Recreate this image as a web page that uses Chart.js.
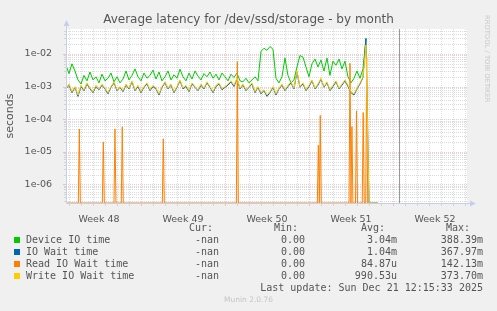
<!DOCTYPE html>
<html>
<head>
<meta charset="utf-8">
<title>Average latency for /dev/ssd/storage - by month</title>
<script src="https://cdn.jsdelivr.net/npm/chart.js@4.4.1/dist/chart.umd.min.js"></script>
<style>
  body { margin: 0; background: #f0f0f0; }
  #wrap { position: relative; width: 497px; height: 311px; overflow: hidden; font-family: "DejaVu Sans", sans-serif; color: #555; }
  canvas { position: absolute; left: 0; top: 0; }
  .txt { position: absolute; white-space: pre; line-height: 12px; height: 12px; }
  .mono { font-family: "DejaVu Sans Mono", monospace; font-size: 10px; }
  .sq { position: absolute; width: 6px; height: 6px; }
  #title { position: absolute; left: 0; width: 497px; top: 12px; text-align: center; font-size: 12px; line-height: 14px; }
  #footer { position: absolute; left: 0; width: 497px; top: 295px; text-align: center; font-size: 7.5px; color: #c4c4c4; }
  #rrd { position: absolute; left: 483px; top: 15px; writing-mode: vertical-rl; font-size: 6.8px; color: #c8c8c8; white-space: pre; }
</style>
</head>
<body>
<div id="wrap">
  <canvas id="latencyChart" width="497" height="311"></canvas>
  <div id="title">Average latency for /dev/ssd/storage - by month</div>
  <div id="rrd">RRDTOOL / TOBI OETIKER</div>
  <div id="footer">Munin 2.0.76</div>
</div>
<script>
/* ==========================================
   Data (seconds, one sample every 6 hours)
========================================== */

// x is measured in days from Monday Nov 24 00:00
const sampleStartDay = 0.75;
const sampleStepDay = 0.25;

const deviceIO = [
    4.5e-3, 2.5e-3, 5.0e-3, 3.0e-3, 1.6e-3, 1.2e-3, 2.2e-3, 1.5e-3, 2.8e-3, 1.6e-3,
    2.0e-3, 1.3e-3, 2.4e-3, 1.5e-3, 1.8e-3, 2.6e-3, 1.4e-3, 2.0e-3, 1.3e-3, 1.7e-3,
    3.0e-3, 1.6e-3, 2.2e-3, 3.5e-3, 2.0e-3, 1.5e-3, 2.6e-3, 1.8e-3, 2.2e-3, 3.2e-3,
    1.7e-3, 2.8e-3, 1.5e-3, 2.0e-3, 3.0e-3, 1.6e-3, 2.3e-3, 1.8e-3, 3.4e-3, 2.0e-3,
    1.5e-3, 2.6e-3, 1.7e-3, 3.0e-3, 2.1e-3, 1.6e-3, 2.5e-3, 2.0e-3, 2.8e-3, 1.8e-3,
    2.4e-3, 1.6e-3, 2.6e-3, 2.0e-3, 1.5e-3, 2.4e-3, 1.9e-3, 2.6e-3, 1.5e-3, 1.4e-3,
    1.8e-3, 1.3e-3, 1.6e-3, 2.0e-3, 1.5e-3, 1.2e-2, 1.5e-2, 1.3e-2, 1.7e-2, 1.4e-2,
    1.8e-3, 1.3e-3, 2.0e-3, 7.5e-3, 2.2e-3, 1.3e-3, 1.6e-3, 4.0e-3, 9.0e-3, 8.0e-3,
    4.0e-3, 2.0e-3, 5.0e-3, 7.0e-3, 4.0e-3, 6.5e-3, 3.0e-3, 7.5e-3, 2.2e-3, 6.0e-3,
    4.5e-3, 7.0e-3, 3.5e-3, 6.0e-3, 2.0e-3, 1.3e-3, 1.8e-3, 3.0e-3, 1.8e-3, 3.5e-3,
    3.0e-2
];

const ioWait = [
    8.5e-4, 1.1e-3, 6.5e-4, 9.5e-4, 5.0e-4, 1.0e-3, 7.5e-4, 1.2e-3, 8.5e-4, 6.5e-4,
    1.0e-3, 8.0e-4, 1.1e-3, 8.5e-4, 6.0e-4, 9.5e-4, 1.3e-3, 7.5e-4, 9.5e-4, 7.0e-4,
    1.1e-3, 8.5e-4, 1.4e-3, 7.5e-4, 1.0e-3, 6.5e-4, 9.5e-4, 1.2e-3, 7.5e-4, 1.0e-3,
    8.5e-4, 5.5e-4, 9.5e-4, 1.3e-3, 8.5e-4, 1.1e-3, 6.5e-4, 9.5e-4, 1.5e-3, 8.5e-4,
    1.0e-3, 7.0e-4, 1.2e-3, 9.5e-4, 7.5e-4, 1.1e-3, 8.5e-4, 1.3e-3, 9.5e-4, 6.5e-4,
    1.0e-3, 1.2e-3, 8.0e-4, 9.5e-4, 1.1e-3, 1.4e-3, 1.0e-3, 1.7e-3, 8.5e-4, 1.1e-3,
    7.5e-4, 9.5e-4, 1.2e-3, 6.5e-4, 9.5e-4, 6.0e-4, 7.5e-4, 5.0e-4, 6.5e-4, 9.5e-4,
    5.5e-4, 8.5e-4, 1.1e-3, 7.5e-4, 1.0e-3, 1.3e-3, 8.5e-4, 2.8e-3, 9.5e-4, 1.2e-3,
    7.5e-4, 1.0e-3, 1.5e-3, 8.5e-4, 1.1e-3, 1.7e-3, 9.5e-4, 1.3e-3, 7.5e-4, 1.0e-3,
    1.4e-3, 8.5e-4, 1.1e-3, 1.5e-3, 1.0e-3, 6.5e-4, 5.5e-4, 8.5e-4, 1.2e-3, 1.9e-3,
    3.0e-2, 0, 0, 0, 0
];

const writeIOWait = [
    9.0e-4, 1.2e-3, 7.0e-4, 1.0e-3, 5.5e-4, 1.1e-3, 8.0e-4, 1.3e-3, 9.0e-4, 7.0e-4,
    1.1e-3, 8.5e-4, 1.2e-3, 9.0e-4, 6.5e-4, 1.0e-3, 1.4e-3, 8.0e-4, 1.0e-3, 7.5e-4,
    1.2e-3, 9.0e-4, 1.5e-3, 8.0e-4, 1.1e-3, 7.0e-4, 1.0e-3, 1.3e-3, 8.0e-4, 1.1e-3,
    9.0e-4, 6.0e-4, 1.0e-3, 1.4e-3, 9.0e-4, 1.2e-3, 7.0e-4, 1.0e-3, 1.6e-3, 9.0e-4,
    1.1e-3, 7.5e-4, 1.3e-3, 1.0e-3, 8.0e-4, 1.2e-3, 9.0e-4, 1.4e-3, 1.0e-3, 7.0e-4,
    1.1e-3, 1.3e-3, 8.5e-4, 1.0e-3, 1.2e-3, 1.5e-3, 1.1e-3, 1.8e-3, 9.0e-4, 1.2e-3,
    8.0e-4, 1.0e-3, 1.3e-3, 7.0e-4, 1.0e-3, 6.5e-4, 8.0e-4, 5.5e-4, 7.0e-4, 1.0e-3,
    6.0e-4, 9.0e-4, 1.2e-3, 8.0e-4, 1.1e-3, 1.4e-3, 9.0e-4, 3.0e-3, 1.0e-3, 1.3e-3,
    8.0e-4, 1.1e-3, 1.6e-3, 9.0e-4, 1.2e-3, 1.8e-3, 1.0e-3, 1.4e-3, 8.0e-4, 1.1e-3,
    1.5e-3, 9.0e-4, 1.2e-3, 1.6e-3, 1.1e-3, 7.0e-4, 6.0e-4, 9.0e-4, 1.3e-3, 2.0e-3,
    1.9e-2, 0, 0, 0, 0
];

// read wait is zero except for single-sample spikes (2 h wide)
const readStartDay = 0.75;
const readEndDay = 26.0;
const readSpikeDay = [1.86, 3.86, 4.83, 5.44, 8.86, 15.03, 21.78, 21.94, 24.42, 24.58, 24.96, 25.52, 25.81];
const readSpikeValue = [5e-5, 2e-5, 5e-5, 5.8e-5, 2.5e-5, 5.8e-3, 1.6e-5, 1.3e-4, 5.2e-3, 5.9e-5, 1.8e-4, 1.6e-4, 8e-3];

const xTickDays = [3.5, 10.5, 17.5, 24.5, 31.5];
const xTickLabels = ["Week 48", "Week 49", "Week 50", "Week 51", "Week 52"];

const yTickValues = [1e-6, 1e-5, 1e-4, 1e-3, 1e-2];
const yTickLabels = ["1e-06", "1e-05", "1e-04", "1e-03", "1e-02"];

const legendNames = ["Device IO time", "IO Wait time", "Read IO Wait time", "Write IO Wait time"];
const legendColors = ["#00cc00", "#0066b3", "#ff8000", "#ffcc00"];
const legendCur = ["-nan", "-nan", "-nan", "-nan"];
const legendMin = ["0.00", "0.00", "0.00", "0.00"];
const legendAvg = ["3.04m", "1.04m", "84.87u", "990.53u"];
const legendMax = ["388.39m", "367.97m", "142.13m", "373.70m"];

/* ==========================================
   Axes limits
========================================== */

const X_MIN_DAY = 0.75;
const X_MAX_DAY = 34.17;
const Y_MIN = 2.67e-7;
const Y_MAX = 0.0585;
const NOW_DAY = 28.5;

const MINOR_GRID = "rgba(175,175,175,0.45)";
const MAJOR_GRID = "rgba(235,130,130,0.45)";
const AXIS_COLOR = "#c6cef0";

/* ==========================================
   Helpers
========================================== */

// zero has no place on a log axis; rrdtool draws it on the floor
function toPoints(values) {
    return values.map((v, i) => ({
        x: sampleStartDay + i * sampleStepDay,
        y: v > 0 ? v : Y_MIN
    }));
}

function readPoints() {
    const w = 1 / 12;
    const pts = [{ x: readStartDay, y: Y_MIN }];
    readSpikeDay.forEach((d, i) => {
        pts.push({ x: d - w, y: Y_MIN });
        pts.push({ x: d, y: readSpikeValue[i] });
        pts.push({ x: d + w, y: Y_MIN });
    });
    pts.push({ x: readEndDay, y: Y_MIN });
    return pts;
}

/* ==========================================
   Munin style grid / axes
========================================== */

const muninGrid = {

    id: "muninGrid",

    beforeDraw(chart) {
        const { ctx, chartArea: a } = chart;
        ctx.save();
        ctx.fillStyle = "#ffffff";
        ctx.fillRect(a.left, a.top, a.right - a.left, a.bottom - a.top);
        ctx.restore();
    },

    beforeDatasetsDraw(chart) {
        const { ctx, chartArea: a, scales } = chart;
        const xs = scales.x;
        const ys = scales.y;

        ctx.save();
        ctx.lineWidth = 1;

        // vertical lines, one per day, red on week starts
        for (let d = Math.ceil(xs.min); d <= xs.max; d++) {
            const px = Math.round(xs.getPixelForValue(d)) + 0.5;
            const major = d % 7 === 0;
            ctx.setLineDash([1, 1]);
            ctx.strokeStyle = major ? MAJOR_GRID : MINOR_GRID;
            ctx.beginPath();
            ctx.moveTo(px, a.top);
            ctx.lineTo(px, a.bottom);
            ctx.stroke();
            ctx.setLineDash([]);
            ctx.beginPath();
            ctx.moveTo(px, a.bottom);
            ctx.lineTo(px, a.bottom + 3);
            ctx.stroke();
        }

        // horizontal lines, 1..9 per decade
        for (let e = -7; e <= -1; e++) {
            for (let k = 1; k <= 9; k++) {
                const v = k * Math.pow(10, e);
                if (v < ys.min || v > ys.max) continue;
                const py = Math.round(ys.getPixelForValue(v)) + 0.5;
                ctx.setLineDash([1, 1]);
                ctx.strokeStyle = k === 1 ? MAJOR_GRID : MINOR_GRID;
                ctx.beginPath();
                ctx.moveTo(a.left, py);
                ctx.lineTo(a.right, py);
                ctx.stroke();
                ctx.setLineDash([]);
                ctx.beginPath();
                ctx.moveTo(a.left - (k === 1 ? 3 : 2), py);
                ctx.lineTo(a.left, py);
                ctx.stroke();
            }
        }

        // "now" rule
        const nx = Math.round(xs.getPixelForValue(NOW_DAY)) + 0.5;
        ctx.strokeStyle = "#999999";
        ctx.beginPath();
        ctx.moveTo(nx, a.top);
        ctx.lineTo(nx, a.bottom);
        ctx.stroke();

        ctx.restore();
    },

    afterDatasetsDraw(chart) {
        const { ctx, chartArea: a } = chart;
        const left = Math.round(a.left) + 0.5;
        const bottom = Math.round(a.bottom) + 0.5;

        ctx.save();
        ctx.strokeStyle = AXIS_COLOR;
        ctx.fillStyle = AXIS_COLOR;
        ctx.lineWidth = 1;

        ctx.beginPath();
        ctx.moveTo(left, bottom);
        ctx.lineTo(left, a.top - 4);
        ctx.moveTo(left, bottom);
        ctx.lineTo(a.right + 4, bottom);
        ctx.stroke();

        ctx.beginPath();
        ctx.moveTo(left - 3, a.top - 3);
        ctx.lineTo(left + 3, a.top - 3);
        ctx.lineTo(left, a.top - 9);
        ctx.closePath();
        ctx.fill();

        ctx.beginPath();
        ctx.moveTo(a.right + 3, bottom - 3);
        ctx.lineTo(a.right + 3, bottom + 3);
        ctx.lineTo(a.right + 9, bottom);
        ctx.closePath();
        ctx.fill();

        ctx.restore();
    }

};

/* ==========================================
   Latency Chart
========================================== */

const chartCanvas = document.getElementById("latencyChart");

if (chartCanvas) {

    const ctx = chartCanvas.getContext("2d");

    new Chart(ctx, {

        type: "line",

        data: {

            datasets: [
                {
                    label: legendNames[0],
                    data: toPoints(deviceIO),
                    borderColor: legendColors[0],
                    order: 4
                },
                {
                    label: legendNames[1],
                    data: toPoints(ioWait),
                    borderColor: legendColors[1],
                    order: 3
                },
                {
                    label: legendNames[2],
                    data: readPoints(),
                    borderColor: legendColors[2],
                    order: 2
                },
                {
                    label: legendNames[3],
                    data: toPoints(writeIOWait),
                    borderColor: legendColors[3],
                    order: 1
                }
            ]

        },

        options: {

            responsive: false,

            devicePixelRatio: 1,

            animation: false,

            events: [],

            datasets: {
                line: {
                    borderWidth: 1,
                    pointRadius: 0,
                    tension: 0,
                    fill: false
                }
            },

            layout: {
                padding: { top: 29, right: 30, bottom: 88, left: 0 }
            },

            plugins: {
                legend: { display: false },
                tooltip: { enabled: false }
            },

            scales: {

                x: {
                    type: "linear",
                    min: X_MIN_DAY,
                    max: X_MAX_DAY,
                    grid: { display: false },
                    border: { display: false },
                    afterBuildTicks(scale) {
                        scale.ticks = xTickDays.map(v => ({ value: v }));
                    },
                    afterFit(scale) {
                        scale.height = 20;
                    },
                    ticks: {
                        autoSkip: false,
                        maxRotation: 0,
                        minRotation: 0,
                        padding: 3,
                        color: "#555555",
                        font: { family: "DejaVu Sans", size: 9.5 },
                        callback: (v, i) => xTickLabels[i]
                    }
                },

                y: {
                    type: "logarithmic",
                    min: Y_MIN,
                    max: Y_MAX,
                    grid: { display: false },
                    border: { display: false },
                    afterBuildTicks(scale) {
                        scale.ticks = yTickValues.map(v => ({ value: v }));
                    },
                    afterFit(scale) {
                        scale.width = 66;
                    },
                    ticks: {
                        padding: 6,
                        color: "#555555",
                        font: { family: "DejaVu Sans", size: 9.5 },
                        callback: (v, i) => yTickLabels[i]
                    },
                    title: {
                        display: true,
                        text: "seconds",
                        color: "#555555",
                        padding: { top: 4, bottom: 0 },
                        font: { family: "DejaVu Sans", size: 11 }
                    }
                }

            }

        },

        plugins: [muninGrid]

    });

}

/* ==========================================
   Legend table (text)
========================================== */

const wrap = document.getElementById("wrap");

function addText(text, x, y, align, cls) {
    const el = document.createElement("div");
    el.className = "txt " + (cls || "");
    el.textContent = text;
    el.style.top = (y - 6) + "px";
    if (align === "right") {
        el.style.left = (x - 300) + "px";
        el.style.width = "300px";
        el.style.textAlign = "right";
    } else {
        el.style.left = x + "px";
    }
    wrap.appendChild(el);
}

addText("Cur:", 213, 228, "right", "mono");
addText("Min:", 298, 228, "right", "mono");
addText("Avg:", 385, 228, "right", "mono");
addText("Max:", 470, 228, "right", "mono");

legendNames.forEach((name, i) => {
    const y = 240 + i * 12;
    const sq = document.createElement("div");
    sq.className = "sq";
    sq.style.left = "14px";
    sq.style.top = (y - 3) + "px";
    sq.style.background = legendColors[i];
    wrap.appendChild(sq);
    addText(name, 26, y, "left", "mono");
    addText(legendCur[i], 219, y, "right", "mono");
    addText(legendMin[i], 305, y, "right", "mono");
    addText(legendAvg[i], 397, y, "right", "mono");
    addText(legendMax[i], 483, y, "right", "mono");
});

addText("Last update: Sun Dec 21 12:15:33 2025", 483, 288, "right", "mono");
</script>
</body>
</html>
